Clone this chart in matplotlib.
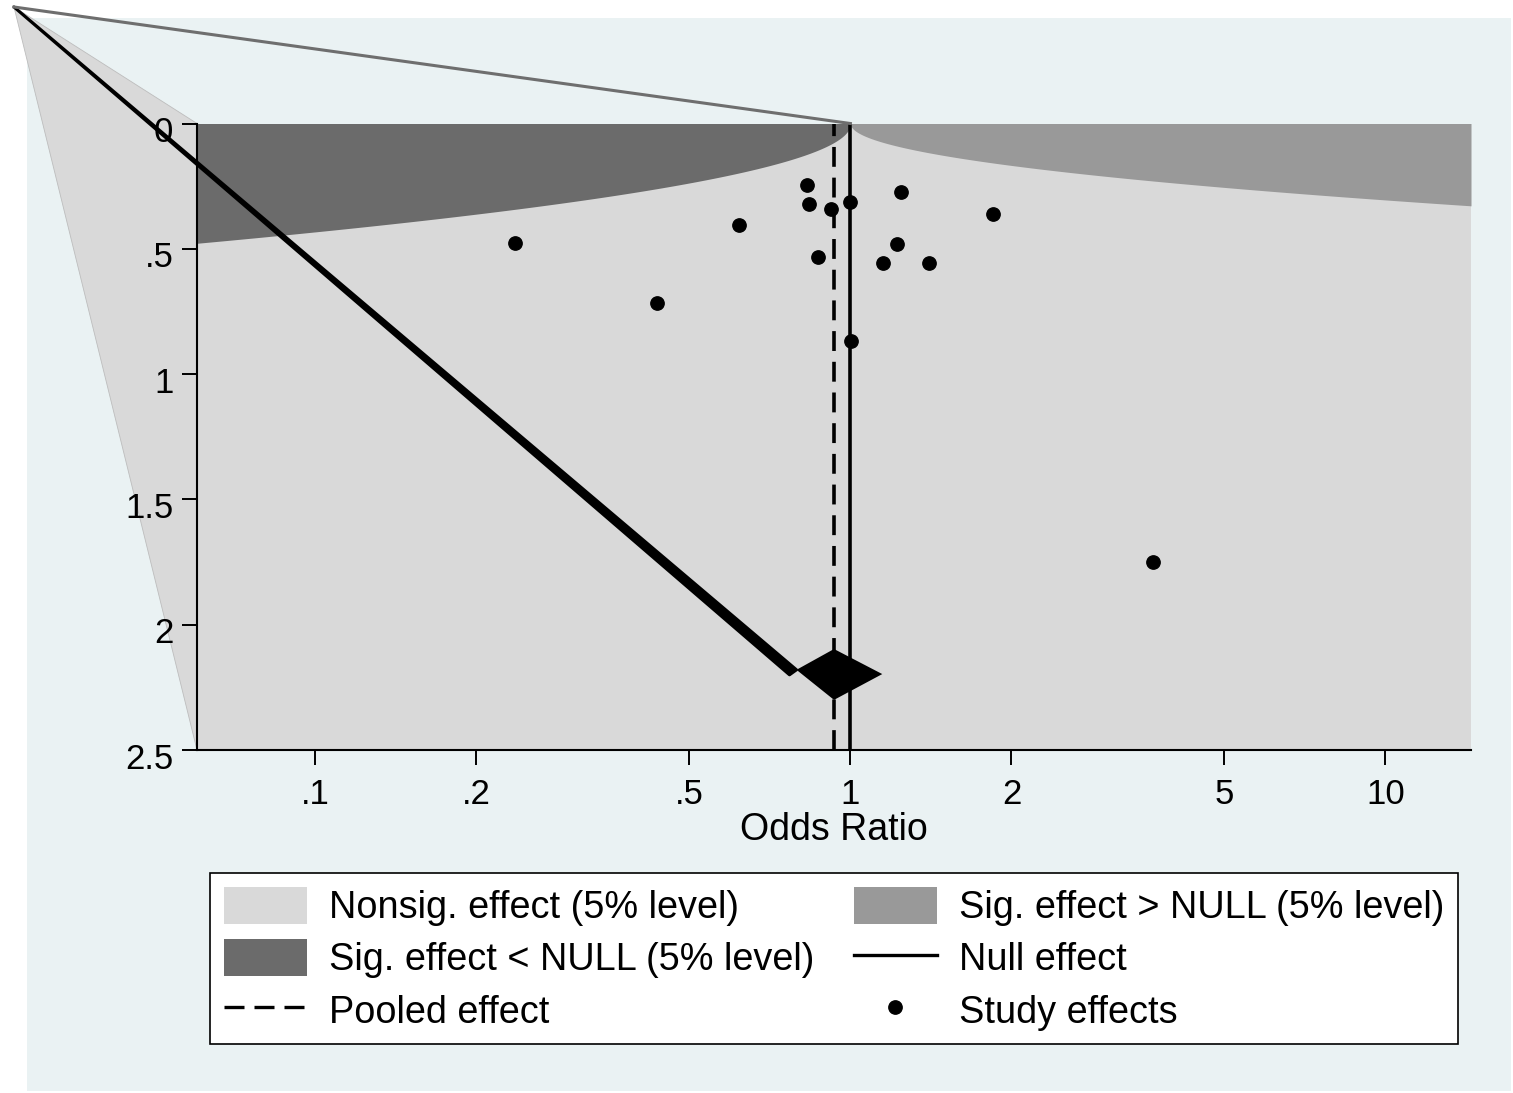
import numpy as np
import matplotlib.pyplot as plt
from matplotlib.patches import Polygon, Patch, Rectangle
from matplotlib.lines import Line2D
from matplotlib.ticker import FixedLocator, NullLocator
from matplotlib.transforms import IdentityTransform, ScaledTranslation

plt.rcParams['font.family'] = ['Liberation Sans', 'DejaVu Sans']

# study estimates (odds ratio, standard error)
study_or = [0.236, 0.435, 0.618, 0.830, 0.838, 0.869, 0.918, 0.997,
            1.245, 1.220, 1.151, 1.403, 1.848, 1.001, 3.673]
study_se = [0.476, 0.718, 0.405, 0.247, 0.321, 0.534, 0.342, 0.313,
            0.272, 0.481, 0.557, 0.557, 0.361, 0.867, 1.751]

# pooled estimate and its CI, drawn as a diamond
pooled_or = 0.932
pooled_ci = [0.793, 1.147]
diamond_se = [2.097, 2.18, 2.197, 2.30]   # top, left, right, bottom

x_ticks = [0.1, 0.2, 0.5, 1, 2, 5, 10]
x_labels = ['.1', '.2', '.5', '1', '2', '5', '10']
y_ticks = [0, 0.5, 1, 1.5, 2, 2.5]
y_labels = ['0', '.5', '1', '1.5', '2', '2.5']

legend_labels = ['Nonsig. effect (5% level)', 'Sig. effect < NULL (5% level)',
                 'Pooled effect', 'Sig. effect > NULL (5% level)',
                 'Null effect', 'Study effects']

C_NONSIG = '#D9D9D9'
C_LOW = '#6B6B6B'
C_HIGH = '#999999'
C_BG = '#EAF2F3'

xmin, xmax = 0.0601, 14.45
k_low, k_high = 0.285, 0.201   # contour widths of the 5% regions

W, H = 1513, 1093
fig = plt.figure(figsize=(W / 100, H / 100), dpi=100, facecolor='white')
fig.add_artist(Rectangle((27 / W, 2 / H), (1511 - 27) / W, 1073 / H,
                         fc=C_BG, ec='none', zorder=-2))

ax = fig.add_axes([197 / W, (H - 750) / H, (1471 - 197) / W, (750 - 123.5) / H])
ax.set_facecolor(C_NONSIG)
ax.set_xscale('log')
ax.set_xlim(xmin, xmax)
ax.set_ylim(2.5, 0)

# significance contours
lo = np.exp(np.linspace(np.log(xmin), 0, 500))
ax.fill_between(lo, 0, k_low * np.sqrt(-np.log(lo)), color=C_LOW, lw=0, zorder=1)
hi = np.exp(np.linspace(0, np.log(xmax), 500))
ax.fill_between(hi, 0, k_high * np.sqrt(np.log(hi)), color=C_HIGH, lw=0, zorder=1)

ax.axvline(1, color='k', lw=2.6, zorder=2)
ax.axvline(pooled_or, color='k', lw=2.6, dashes=(5.5, 3), zorder=2)
ax.fill([pooled_ci[0], pooled_or, pooled_ci[1], pooled_or],
        [diamond_se[1], diamond_se[0], diamond_se[2], diamond_se[3]],
        color='k', lw=0, zorder=4)
ax.plot(study_or, study_se, 'o', color='k', ms=9.6, zorder=5)

ax.xaxis.set_major_locator(FixedLocator(x_ticks))
ax.xaxis.set_minor_locator(NullLocator())
ax.set_xticklabels(x_labels)
ax.set_yticks(y_ticks)
ax.set_yticklabels(y_labels)
ax.tick_params(axis='both', length=11, width=1.4, labelsize=25, color='k')
ax.tick_params(axis='x', pad=9)
ax.tick_params(axis='y', pad=6)
shift = ScaledTranslation(0, -4 / 72, fig.dpi_scale_trans)
for lab in ax.get_yticklabels():
    lab.set_transform(lab.get_transform() + shift)
for s in ['top', 'right']:
    ax.spines[s].set_visible(False)
for s in ['left', 'bottom']:
    ax.spines[s].set_linewidth(1.5)
ax.set_xlabel('Odds Ratio', fontsize=27, labelpad=1)

# stray path segments from the exported graph
px = ax.transData.transform
apex = np.array([14.0, H - 7.0])
tip = px((pooled_ci[0], diamond_se[1]))
fig.add_artist(Polygon([apex, tip, tip + np.array([-7.0, -5.0])], closed=True,
                       fc='k', ec='k', lw=2.2, joinstyle='round',
                       transform=IdentityTransform(), zorder=5))
one = px((1, 0))
fig.add_artist(Line2D([apex[0], one[0]], [apex[1], one[1]], color='#6E6E6E',
                      lw=2.2, transform=IdentityTransform(), zorder=5))
corner_top = ax.transAxes.transform((0, 1))
corner_bot = ax.transAxes.transform((0, 0))
fig.add_artist(Polygon([apex, corner_top, corner_bot], closed=True,
                       fc=C_NONSIG, ec='#BDBDBD', lw=0.6,
                       transform=IdentityTransform(), zorder=-1))

handles = [Patch(fc=C_NONSIG, ec='none'),
           Patch(fc=C_LOW, ec='none'),
           Line2D([], [], color='k', lw=2.4, dashes=(6, 3)),
           Patch(fc=C_HIGH, ec='none'),
           Line2D([], [], color='k', lw=2.4),
           Line2D([], [], marker='o', ls='none', color='k', ms=9.6)]
leg = fig.legend(handles, legend_labels, loc='upper left', ncol=2, mode='expand',
                 bbox_to_anchor=(210 / W, 1 - 873 / H - 0.01, (1458 - 210) / W, 0.01),
                 borderaxespad=0, fontsize=27.3, handlelength=2.2, handleheight=1.15,
                 handletextpad=0.58, labelspacing=0.33, borderpad=0.36,
                 fancybox=False, frameon=True, edgecolor='k', framealpha=1)
leg.get_frame().set_linewidth(1.2)

fig.savefig('out.png', dpi=100)
